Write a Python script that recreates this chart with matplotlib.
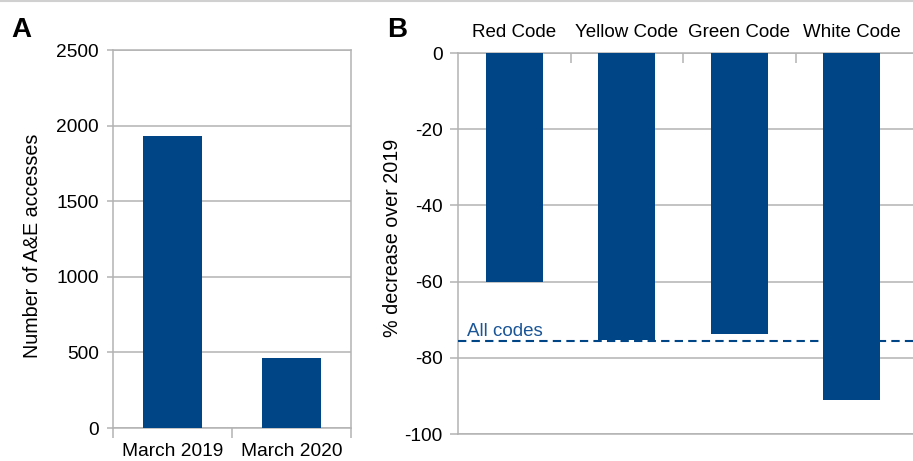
import matplotlib
matplotlib.use("Agg")
import matplotlib.pyplot as plt
from matplotlib.lines import Line2D

plt.rcParams['font.family'] = ['Liberation Sans', 'DejaVu Sans']
plt.rcParams['axes.unicode_minus'] = False

# panel A data
months = ['March 2019', 'March 2020']
accesses = [1931, 463]

# panel B data
codes = ['Red Code', 'Yellow Code', 'Green Code', 'White Code']
decrease = [-60.1, -75.3, -73.7, -91.0]
all_codes = -75.7

bar_col = '#004586'
grid_col = '#b3b3b3'
fs = 13.8

fig = plt.figure(figsize=(9.13, 4.61), dpi=100)

# ---- panel A
axA = fig.add_axes([113/913, 1-428/461, (351-113)/913, (428-50)/461])
xa = list(range(1, len(months) + 1))
axA.bar(xa, accesses, width=0.5, color=bar_col, zorder=3)
axA.set_xlim(0.5, len(months) + 0.5)
axA.set_ylim(0, 2500)
axA.set_yticks(range(0, 2501, 500))
axA.yaxis.grid(True, color=grid_col, lw=1.1, zorder=0)
axA.set_xticks([i + 0.5 for i in range(len(months) + 1)])
axA.set_xticklabels([])
axA.set_xticks(xa, minor=True)
axA.set_xticklabels(months, minor=True, fontsize=fs)
axA.tick_params(axis='x', which='major', direction='out', length=7, width=1.1, color=grid_col)
axA.tick_params(axis='x', which='minor', length=0, pad=11)
axA.tick_params(axis='y', direction='out', length=4, width=1.1, color=grid_col, labelsize=fs, pad=6)
for s in axA.spines.values():
    s.set_color(grid_col)
    s.set_linewidth(1.1)
fig.text(33/913, 1-246/461, 'Number of A&E accesses', rotation=90, ha='center', va='center', fontsize=14.2)
fig.text(11/913, 1-37/461, 'A', fontsize=20, fontweight='bold', ha='left', va='baseline')

# ---- panel B
axB = fig.add_axes([458/913, 1-434/461, (916-458)/913, (434-53)/461])
xb = list(range(1, len(codes) + 1))
axB.bar(xb, decrease, width=0.51, color=bar_col, zorder=3)
axB.set_xlim(0.5, 0.5 + (916-458)/112.5)
axB.set_ylim(-100, 0)
axB.set_yticks(range(-100, 1, 20))
axB.yaxis.grid(True, color=grid_col, lw=1.1, zorder=0)
axB.xaxis.tick_top()
axB.set_xticks([1.5, 2.5, 3.5])
axB.set_xticklabels([])
axB.set_xticks(xb, minor=True)
axB.set_xticklabels(codes, minor=True, fontsize=13.5)
axB.tick_params(axis='x', which='major', direction='in', length=7, width=1.1, color=grid_col)
axB.tick_params(axis='x', which='minor', length=0, pad=9)
axB.tick_params(axis='y', direction='out', length=6, width=1.1, color=grid_col, labelsize=fs, pad=5)
for s in axB.spines.values():
    s.set_color(grid_col)
    s.set_linewidth(1.1)
axB.spines['right'].set_visible(False)
axB.axhline(all_codes, color=bar_col, lw=1.5, dashes=(4, 2.5), zorder=4)
axB.text(0.58, all_codes + 1.5, 'All codes', color='#1a5597', fontsize=13.5, ha='left', va='baseline')
fig.text(392/913, 1-238/461, '% decrease over 2019', rotation=90, ha='center', va='center', fontsize=14.2)
fig.text(387/913, 1-37/461, 'B', fontsize=20, fontweight='bold', ha='left', va='baseline')

# thin border line at the top of the image
fig.add_artist(Line2D([0, 1], [1-1/461, 1-1/461], transform=fig.transFigure, color='#d0d0d0', lw=1.5))

fig.savefig('out.png', dpi=100)
